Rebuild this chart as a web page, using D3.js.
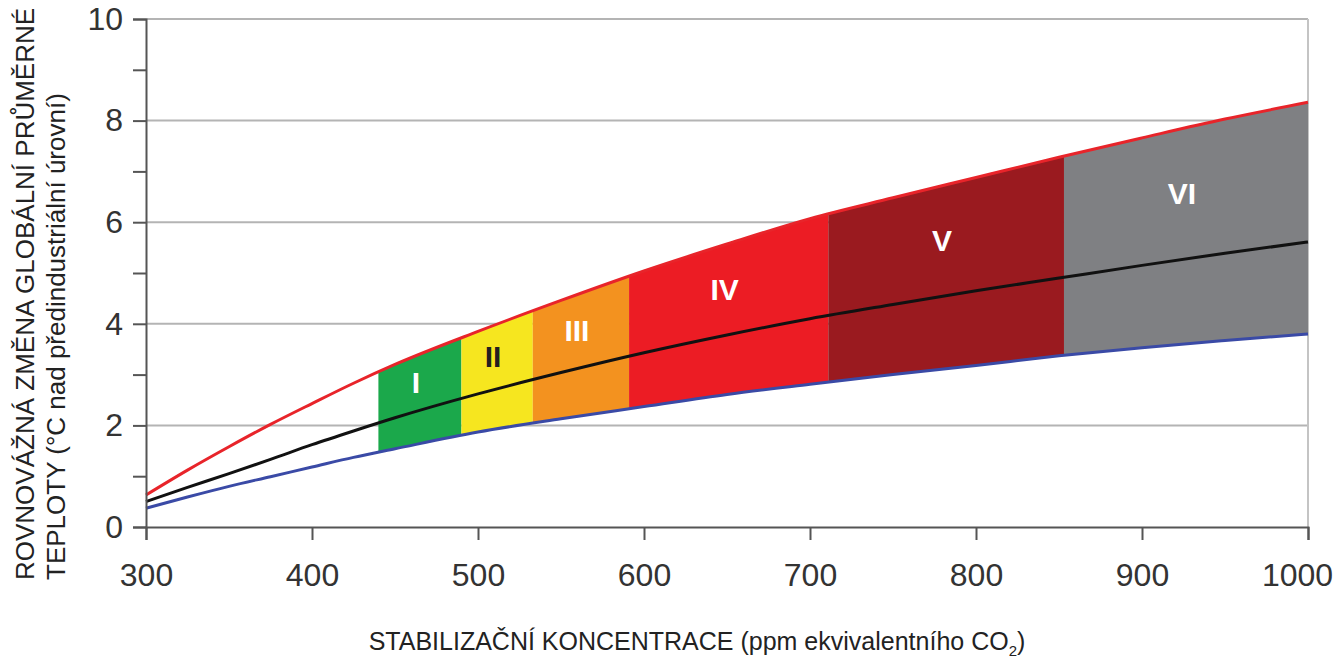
<!DOCTYPE html>
<html>
<head>
<meta charset="utf-8">
<script src="https://cdn.jsdelivr.net/npm/d3@7"></script>
<style>
  body { margin: 0; background: #fff; }
  text { font-family: "Liberation Sans", Arial, sans-serif; }
</style>
</head>
<body>
<script>
var width = 1334, height = 660;
var margin = { top: 19, right: 26, bottom: 133, left: 146 };

// concentrations (ppm CO2-eq) and the three warming curves
var ppm   = [300, 325, 350, 375, 400, 425, 450, 500, 550, 600, 650, 700, 750, 800, 850, 900, 950, 1000];
var upper = [0.63, 1.12, 1.58, 2.02, 2.43, 2.83, 3.20, 3.85, 4.46, 5.04, 5.57, 6.07, 6.48, 6.88, 7.28, 7.66, 8.03, 8.36];
var best  = [0.50, 0.78, 1.05, 1.33, 1.62, 1.89, 2.15, 2.62, 3.04, 3.43, 3.78, 4.10, 4.38, 4.65, 4.90, 5.15, 5.39, 5.61];
var lower = [0.37, 0.59, 0.80, 0.99, 1.18, 1.37, 1.54, 1.87, 2.13, 2.37, 2.61, 2.81, 3.00, 3.18, 3.37, 3.53, 3.67, 3.80];

// stabilisation categories
var catNames  = ["I", "II", "III", "IV", "V", "VI"];
var catStart  = [440, 490, 533, 591, 711, 853];
var catEnd    = [490, 533, 591, 711, 853, 1000];
var catColors = ["#1ba84b", "#f6e61f", "#f3921f", "#ec1c24", "#9a1a1f", "#7f8083"];
var catText   = ["#fff", "#231f20", "#fff", "#fff", "#fff", "#fff"];

var xTicks = [300, 400, 500, 600, 700, 800, 900, 1000];
var yTicks = [0, 2, 4, 6, 8, 10];
var yMinor = [1, 3, 5, 7, 9];

var data = ppm.map(function(p, i) { return { x: p, hi: upper[i], mid: best[i], lo: lower[i] }; });

var svg = d3.select("body").append("svg").attr("width", width).attr("height", height);
var g = svg.append("g").attr("transform", "translate(" + margin.left + "," + margin.top + ")");
var w = width - margin.left - margin.right;
var h = height - margin.top - margin.bottom;

var x = d3.scaleLinear().domain([300, 1000]).range([0, w]);
var y = d3.scaleLinear().domain([0, 10]).range([h, 0]);

// grid lines
g.append("g")
  .selectAll("line")
  .data(yTicks.slice(1))
  .enter().append("line")
  .attr("x1", 0).attr("x2", w)
  .attr("y1", d => y(d)).attr("y2", d => y(d))
  .attr("stroke", "#b4b4b4").attr("stroke-width", 2);

g.append("line")
  .attr("x1", w).attr("x2", w).attr("y1", 0).attr("y2", h)
  .attr("stroke", "#c4c4c4").attr("stroke-width", 2);

// coloured bands between lower and upper curves, cut into categories
var band = d3.area().curve(d3.curveMonotoneX)
  .x(d => x(d.x)).y0(d => y(d.lo)).y1(d => y(d.hi));

catNames.forEach(function(name, i) {
  var id = "clip" + i;
  svg.append("clipPath").attr("id", id)
    .append("rect")
    .attr("x", x(catStart[i])).attr("y", -5)
    .attr("width", x(catEnd[i]) - x(catStart[i])).attr("height", h + 10);
  g.append("path").datum(data)
    .attr("d", band)
    .attr("fill", catColors[i])
    .attr("clip-path", "url(#" + id + ")");
});

// curves
var line = d3.line().curve(d3.curveMonotoneX).x(d => x(d.x));
g.append("path").datum(data).attr("d", line.y(d => y(d.lo)))
  .attr("fill", "none").attr("stroke", "#3a4aa6").attr("stroke-width", 3);
g.append("path").datum(data).attr("d", line.y(d => y(d.hi)))
  .attr("fill", "none").attr("stroke", "#e8242a").attr("stroke-width", 3);
g.append("path").datum(data).attr("d", line.y(d => y(d.mid)))
  .attr("fill", "none").attr("stroke", "#111").attr("stroke-width", 3);

// category labels, halfway between best estimate and upper curve
function interp(arr, p) {
  var i = d3.bisectRight(ppm, p) - 1;
  if (i >= ppm.length - 1) return arr[arr.length - 1];
  var t = (p - ppm[i]) / (ppm[i + 1] - ppm[i]);
  return arr[i] + t * (arr[i + 1] - arr[i]);
}
catNames.forEach(function(name, i) {
  var c = (catStart[i] + catEnd[i]) / 2;
  var v = (interp(best, c) + interp(upper, c)) / 2;
  g.append("text")
    .attr("x", x(c) - 4).attr("y", y(v))
    .attr("dy", "0.36em")
    .attr("text-anchor", "middle")
    .attr("font-size", 30).attr("font-weight", "bold")
    .attr("fill", catText[i])
    .text(name);
});

// axes
var xAxis = g.append("g").attr("transform", "translate(0," + h + ")")
  .call(d3.axisBottom(x).tickValues(xTicks).tickFormat(d3.format("d")).tickSize(13).tickPadding(23));
xAxis.selectAll("text").attr("font-size", 32).attr("fill", "#333");
xAxis.selectAll("text").filter(d => d === 1000).attr("dx", -11);

var yAxis = g.append("g")
  .call(d3.axisLeft(y).tickValues(yTicks).tickSize(13).tickPadding(10));
yAxis.selectAll("text").attr("font-size", 32).attr("fill", "#333");

g.append("g")
  .call(d3.axisLeft(y).tickValues(yMinor).tickSize(13).tickFormat(""))
  .select(".domain").remove();

g.selectAll(".domain, .tick line").attr("stroke", "#555").attr("stroke-width", 2);

// axis titles
svg.append("text")
  .attr("x", margin.left + w / 2 - 30).attr("y", 650)
  .attr("text-anchor", "middle")
  .attr("font-size", 25).attr("fill", "#222")
  .html("STABILIZAČNÍ KONCENTRACE (ppm ekvivalentního CO<tspan font-size='15' dy='6'>2</tspan><tspan dy='-6'>)</tspan>");

var yTitle = svg.append("text")
  .attr("transform", "translate(34,580) rotate(-90)")
  .attr("font-size", 26).attr("fill", "#222");
yTitle.append("tspan").attr("x", 0).attr("y", 0).text("ROVNOVÁŽNÁ ZMĚNA GLOBÁLNÍ PRŮMĚRNÉ");
yTitle.append("tspan").attr("x", 0).attr("y", 31).text("TEPLOTY (°C nad předindustriální úrovní)");
</script>
</body>
</html>
